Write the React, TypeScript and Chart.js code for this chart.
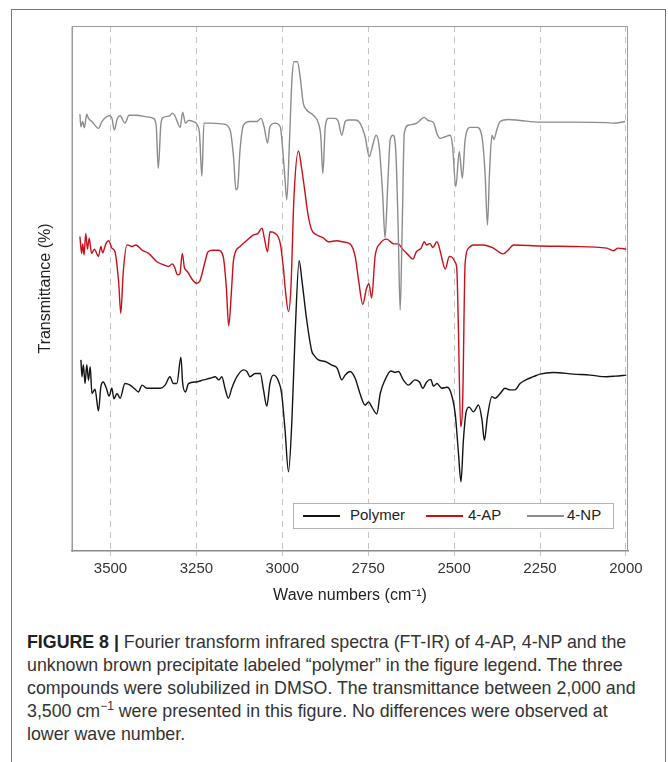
import React, { useEffect, useRef } from 'react';
import { Chart, registerables } from 'chart.js';

Chart.register(...registerables);

// ---- data (wave number cm^-1, transmittance in arbitrary offset %) ----
const X_TICKS = [3500, 3250, 3000, 2750, 2500, 2250, 2000];
const X_MIN = 1994;
const X_MAX = 3612;
const Y_MIN = 0;
const Y_MAX = 100;

const SERIES_LABELS = ['Polymer', '4-AP', '4-NP'];
const SERIES_COLORS = ['#141414', '#c8101a', '#8c8c8c'];

const POLYMER: [number, number][] = [
  [3586, 36.4], [3583, 33.2], [3579, 35.5], [3574, 31.9], [3569, 35.5], [3564, 32.5], [3559, 35.1],
  [3554, 30.0], [3545, 30.8], [3535, 26.7], [3528, 31.3], [3521, 32.2], [3512, 31.0], [3504, 29.5],
  [3496, 31.0], [3490, 29.0], [3481, 30.0], [3472, 29.1], [3458, 31.9], [3443, 31.6], [3428, 30.8],
  [3419, 30.3], [3408, 31.6], [3394, 31.0], [3375, 31.0], [3355, 31.0], [3341, 31.6], [3327, 33.2],
  [3317, 31.9], [3307, 31.9], [3295, 36.9], [3290, 32.0], [3282, 30.3], [3273, 31.9], [3250, 32.2],
  [3229, 32.6], [3210, 32.9], [3195, 33.2], [3185, 32.6], [3176, 33.2], [3166, 30.8], [3157, 29.1],
  [3147, 31.0], [3132, 33.2], [3113, 34.5], [3103, 34.2], [3094, 33.2], [3079, 33.8], [3064, 33.8],
  [3055, 30.8], [3045, 27.6], [3036, 31.9], [3026, 33.5], [3012, 32.5], [3002, 30.0], [2992, 23.0],
  [2982, 15.1], [2972, 25.0], [2963, 40.8], [2951, 55.3], [2943, 51.6], [2929, 44.0], [2914, 38.0],
  [2908, 37.3], [2895, 36.4], [2875, 36.1], [2856, 35.4], [2840, 34.8], [2827, 32.6], [2817, 33.5],
  [2803, 34.2], [2788, 32.9], [2774, 30.0], [2759, 27.8], [2749, 28.4], [2740, 27.5], [2725, 26.1],
  [2715, 30.0], [2701, 32.6], [2684, 34.3], [2672, 34.0], [2662, 34.2], [2648, 32.6], [2633, 31.6],
  [2614, 32.6], [2601, 32.2], [2591, 31.0], [2580, 32.2], [2568, 32.7], [2560, 31.4], [2550, 31.9],
  [2536, 31.0], [2521, 31.2], [2510, 30.3], [2497, 26.2], [2488, 19.2], [2480, 13.2], [2473, 21.1],
  [2465, 26.5], [2456, 27.4], [2444, 26.5], [2429, 27.8], [2419, 25.0], [2412, 21.1], [2403, 25.6],
  [2390, 29.4], [2381, 29.1], [2366, 30.0], [2352, 31.0], [2337, 30.7], [2323, 30.7], [2308, 31.9],
  [2288, 32.7], [2269, 33.2], [2250, 33.7], [2211, 34.0], [2153, 33.7], [2104, 33.5], [2056, 33.2],
  [2031, 33.3], [1999, 33.5],
];

const AP_4: [number, number][] = [
  [3589, 59.9], [3584, 56.7], [3581, 58.5], [3577, 56.4], [3572, 60.5], [3567, 57.5], [3562, 59.6],
  [3555, 56.7], [3547, 57.5], [3535, 56.1], [3528, 58.0], [3523, 56.8], [3513, 58.6], [3505, 59.1],
  [3496, 57.7], [3487, 57.0], [3476, 51.0], [3470, 45.3], [3463, 53.0], [3452, 58.3], [3437, 58.0],
  [3426, 58.3], [3408, 57.3], [3389, 56.7], [3365, 55.1], [3345, 54.5], [3331, 54.2], [3320, 54.7],
  [3313, 54.0], [3305, 52.6], [3298, 52.8], [3291, 56.7], [3285, 54.0], [3280, 53.5], [3274, 53.0],
  [3264, 51.9], [3250, 51.0], [3241, 51.3], [3226, 54.8], [3216, 57.0], [3202, 57.3], [3187, 57.3],
  [3172, 56.1], [3163, 50.3], [3156, 42.9], [3148, 49.5], [3142, 55.4], [3123, 58.0], [3103, 59.2],
  [3084, 60.2], [3071, 60.5], [3059, 61.5], [3052, 59.5], [3043, 57.0], [3036, 60.8], [3021, 60.5],
  [3006, 58.6], [2997, 54.0], [2990, 49.0], [2982, 45.6], [2975, 50.0], [2966, 67.5], [2953, 76.2],
  [2944, 73.0], [2935, 68.8], [2925, 64.0], [2914, 61.1], [2899, 60.2], [2880, 59.6], [2866, 58.9],
  [2841, 59.1], [2826, 58.9], [2803, 58.5], [2788, 56.1], [2778, 51.6], [2766, 47.0], [2755, 50.0],
  [2748, 50.9], [2740, 48.2], [2730, 56.1], [2715, 58.6], [2696, 59.4], [2676, 58.5], [2663, 58.5],
  [2650, 57.5], [2635, 56.5], [2620, 55.6], [2610, 57.0], [2596, 57.7], [2587, 58.9], [2580, 58.3],
  [2570, 58.6], [2562, 57.8], [2550, 58.9], [2540, 57.0], [2533, 55.0], [2526, 53.7], [2514, 56.1],
  [2507, 56.0], [2497, 55.0], [2492, 53.5], [2488, 44.0], [2481, 23.7], [2475, 28.8], [2468, 54.8],
  [2458, 57.7], [2444, 58.3], [2415, 58.3], [2386, 57.7], [2357, 56.6], [2343, 57.3], [2327, 58.3],
  [2250, 58.1], [2153, 58.0], [2056, 57.7], [2036, 57.2], [2023, 57.7], [1999, 57.5],
];

const NP_4: [number, number][] = [
  [3589, 83.2], [3586, 80.8], [3581, 81.8], [3576, 80.6], [3569, 83.2], [3564, 82.4], [3554, 81.8],
  [3535, 80.5], [3525, 81.8], [3503, 82.9], [3496, 82.5], [3489, 80.2], [3480, 82.4], [3472, 82.9],
  [3458, 81.5], [3446, 83.0], [3424, 83.0], [3394, 82.7], [3375, 82.4], [3367, 81.0], [3361, 72.9],
  [3353, 81.5], [3346, 82.6], [3327, 82.9], [3320, 83.4], [3312, 82.8], [3297, 80.7], [3290, 83.6],
  [3282, 81.5], [3273, 82.0], [3259, 81.8], [3247, 81.1], [3241, 79.5], [3234, 71.4], [3228, 81.5],
  [3210, 81.5], [3171, 81.3], [3152, 80.2], [3142, 75.1], [3135, 68.8], [3130, 69.2], [3123, 76.4],
  [3113, 81.1], [3094, 81.8], [3074, 81.8], [3062, 82.4], [3053, 80.8], [3043, 77.7], [3036, 80.8],
  [3021, 81.5], [3006, 80.8], [3002, 78.9], [2992, 70.7], [2987, 66.9], [2979, 78.3], [2972, 89.7],
  [2966, 93.2], [2956, 93.2], [2948, 90.3], [2939, 85.3], [2929, 84.0], [2910, 83.0], [2895, 81.5],
  [2888, 79.0], [2882, 71.9], [2875, 80.8], [2866, 82.4], [2846, 82.4], [2837, 81.8], [2827, 79.2],
  [2817, 81.8], [2808, 82.1], [2788, 82.1], [2774, 81.5], [2759, 78.9], [2747, 75.1], [2740, 76.5],
  [2727, 79.2], [2718, 77.0], [2708, 68.0], [2701, 59.6], [2693, 70.0], [2686, 78.3], [2678, 79.2],
  [2670, 76.5], [2663, 62.0], [2657, 45.9], [2651, 62.0], [2645, 79.6], [2633, 81.1], [2609, 81.5],
  [2587, 82.6], [2575, 82.0], [2560, 81.6], [2550, 79.5], [2541, 78.6], [2526, 78.9], [2512, 79.2],
  [2505, 77.5], [2495, 69.4], [2485, 76.1], [2476, 71.0], [2468, 78.3], [2453, 80.7], [2434, 80.7],
  [2419, 78.9], [2410, 72.0], [2403, 62.1], [2397, 72.0], [2390, 79.2], [2384, 78.4], [2376, 80.2],
  [2366, 81.8], [2342, 82.2], [2308, 82.0], [2250, 81.7], [2153, 81.7], [2056, 81.6], [2036, 81.5],
  [2002, 81.8],
];

const SERIES_DATA = [POLYMER, AP_4, NP_4];

const FONT = '"Liberation Sans", Arial, sans-serif';

const framePlugin = {
  id: 'frame',
  afterDraw(chart: any) {
    const { ctx, chartArea } = chart;
    ctx.save();
    ctx.strokeStyle = '#9a9a9a';
    ctx.lineWidth = 1;
    ctx.beginPath();
    ctx.moveTo(chartArea.left, chartArea.bottom);
    ctx.lineTo(chartArea.left, chartArea.top + 0.5);
    ctx.lineTo(chartArea.right - 0.5, chartArea.top + 0.5);
    ctx.lineTo(chartArea.right - 0.5, chartArea.bottom);
    ctx.stroke();
    ctx.restore();
  },
};

function SpectraChart() {
  const ref = useRef<HTMLCanvasElement | null>(null);
  useEffect(() => {
    if (!ref.current) return;
    const chart = new Chart(ref.current, {
      type: 'line',
      data: {
        datasets: SERIES_DATA.map((d, i) => ({
          label: SERIES_LABELS[i],
          data: d.map(([x, y]) => ({ x, y })),
          borderColor: SERIES_COLORS[i],
          backgroundColor: SERIES_COLORS[i],
          borderWidth: 1.4,
          pointRadius: 0,
          cubicInterpolationMode: 'monotone' as const,
          fill: false,
          order: 3 - i,
        })),
      },
      options: {
        responsive: false,
        animation: false,
        layout: { padding: { left: 0, top: 26, right: 40, bottom: 0 } },
        plugins: { legend: { display: false }, tooltip: { enabled: false } },
        scales: {
          x: {
            type: 'linear',
            reverse: true,
            min: X_MIN,
            max: X_MAX,
            afterBuildTicks: (scale: any) => {
              scale.ticks = X_TICKS.map((v) => ({ value: v }));
            },
            afterFit: (scale: any) => {
              scale.height = 69;
            },
            ticks: {
              color: '#333',
              font: { family: FONT, size: 15 },
              padding: 4,
              maxRotation: 0,
              autoSkip: false,
              callback: (v: any) => String(v),
            },
            grid: { color: '#c4c4c4', lineWidth: 1, tickLength: 5, drawTicks: true },
            border: { display: true, color: '#8a8a8a', width: 1.5, dash: [6, 5] },
            title: {
              display: true,
              text: 'Wave numbers (cm\u207B\u00B9)',
              color: '#222',
              font: { family: FONT, size: 16 },
              padding: { top: 0, bottom: 15 },
            },
          },
          y: {
            min: Y_MIN,
            max: Y_MAX,
            afterFit: (scale: any) => {
              scale.width = 72;
            },
            ticks: { display: false },
            grid: { display: false },
            border: { display: true, color: '#9a9a9a', width: 1 },
            title: {
              display: true,
              text: 'Transmittance (%)',
              color: '#222',
              font: { family: FONT, size: 16 },
              padding: { top: 36, bottom: 0 },
            },
          },
        },
      },
      plugins: [framePlugin],
    });
    return () => chart.destroy();
  }, []);
  return (
    <canvas
      ref={ref}
      width={668}
      height={620}
      style={{ position: 'absolute', left: 0, top: 0, width: 668, height: 620 }}
    />
  );
}

const LEGEND_POS = [
  { line: 303, text: 350 },
  { line: 426, text: 468 },
  { line: 527, text: 567 },
];

export default function App() {
  return (
    <div
      style={{
        position: 'absolute',
        left: 0,
        top: 0,
        width: 668,
        height: 762,
        overflow: 'hidden',
        background: '#fff',
        fontFamily: FONT,
      }}
    >
      <div
        style={{
          position: 'absolute',
          left: 11,
          top: 9,
          width: 655,
          height: 800,
          border: '1.5px solid #777',
          boxSizing: 'border-box',
        }}
      />
      <SpectraChart />
      <div
        style={{
          position: 'absolute',
          left: 293,
          top: 503,
          width: 321,
          height: 26,
          border: '1px solid #b4b4b4',
          background: '#fff',
          boxSizing: 'border-box',
        }}
      />
      {SERIES_LABELS.map((lab, i) => (
        <React.Fragment key={lab}>
          <div
            style={{
              position: 'absolute',
              left: LEGEND_POS[i].line,
              top: 515,
              width: 37,
              height: 2,
              background: SERIES_COLORS[i],
            }}
          />
          <div
            style={{
              position: 'absolute',
              left: LEGEND_POS[i].text,
              top: 506,
              fontSize: 15,
              lineHeight: '18px',
              color: '#222',
              whiteSpace: 'nowrap',
            }}
          >
            {lab}
          </div>
        </React.Fragment>
      ))}
      <div
        style={{
          position: 'absolute',
          left: 27,
          top: 631,
          width: 636,
          fontSize: 17.8,
          lineHeight: '23px',
          color: '#333',
          whiteSpace: 'nowrap',
        }}
      >
        <b style={{ color: '#222' }}>FIGURE 8 | </b>Fourier transform infrared spectra (FT-IR) of 4-AP, 4-NP and the
        <br />
        unknown brown precipitate labeled “polymer” in the figure legend. The three
        <br />
        compounds were solubilized in DMSO. The transmittance between 2,000 and
        <br />
        3,500 cm<sup style={{ fontSize: 12, lineHeight: 0 }}>−1</sup> were presented in this figure. No differences were observed at
        <br />
        lower wave number.
      </div>
    </div>
  );
}
